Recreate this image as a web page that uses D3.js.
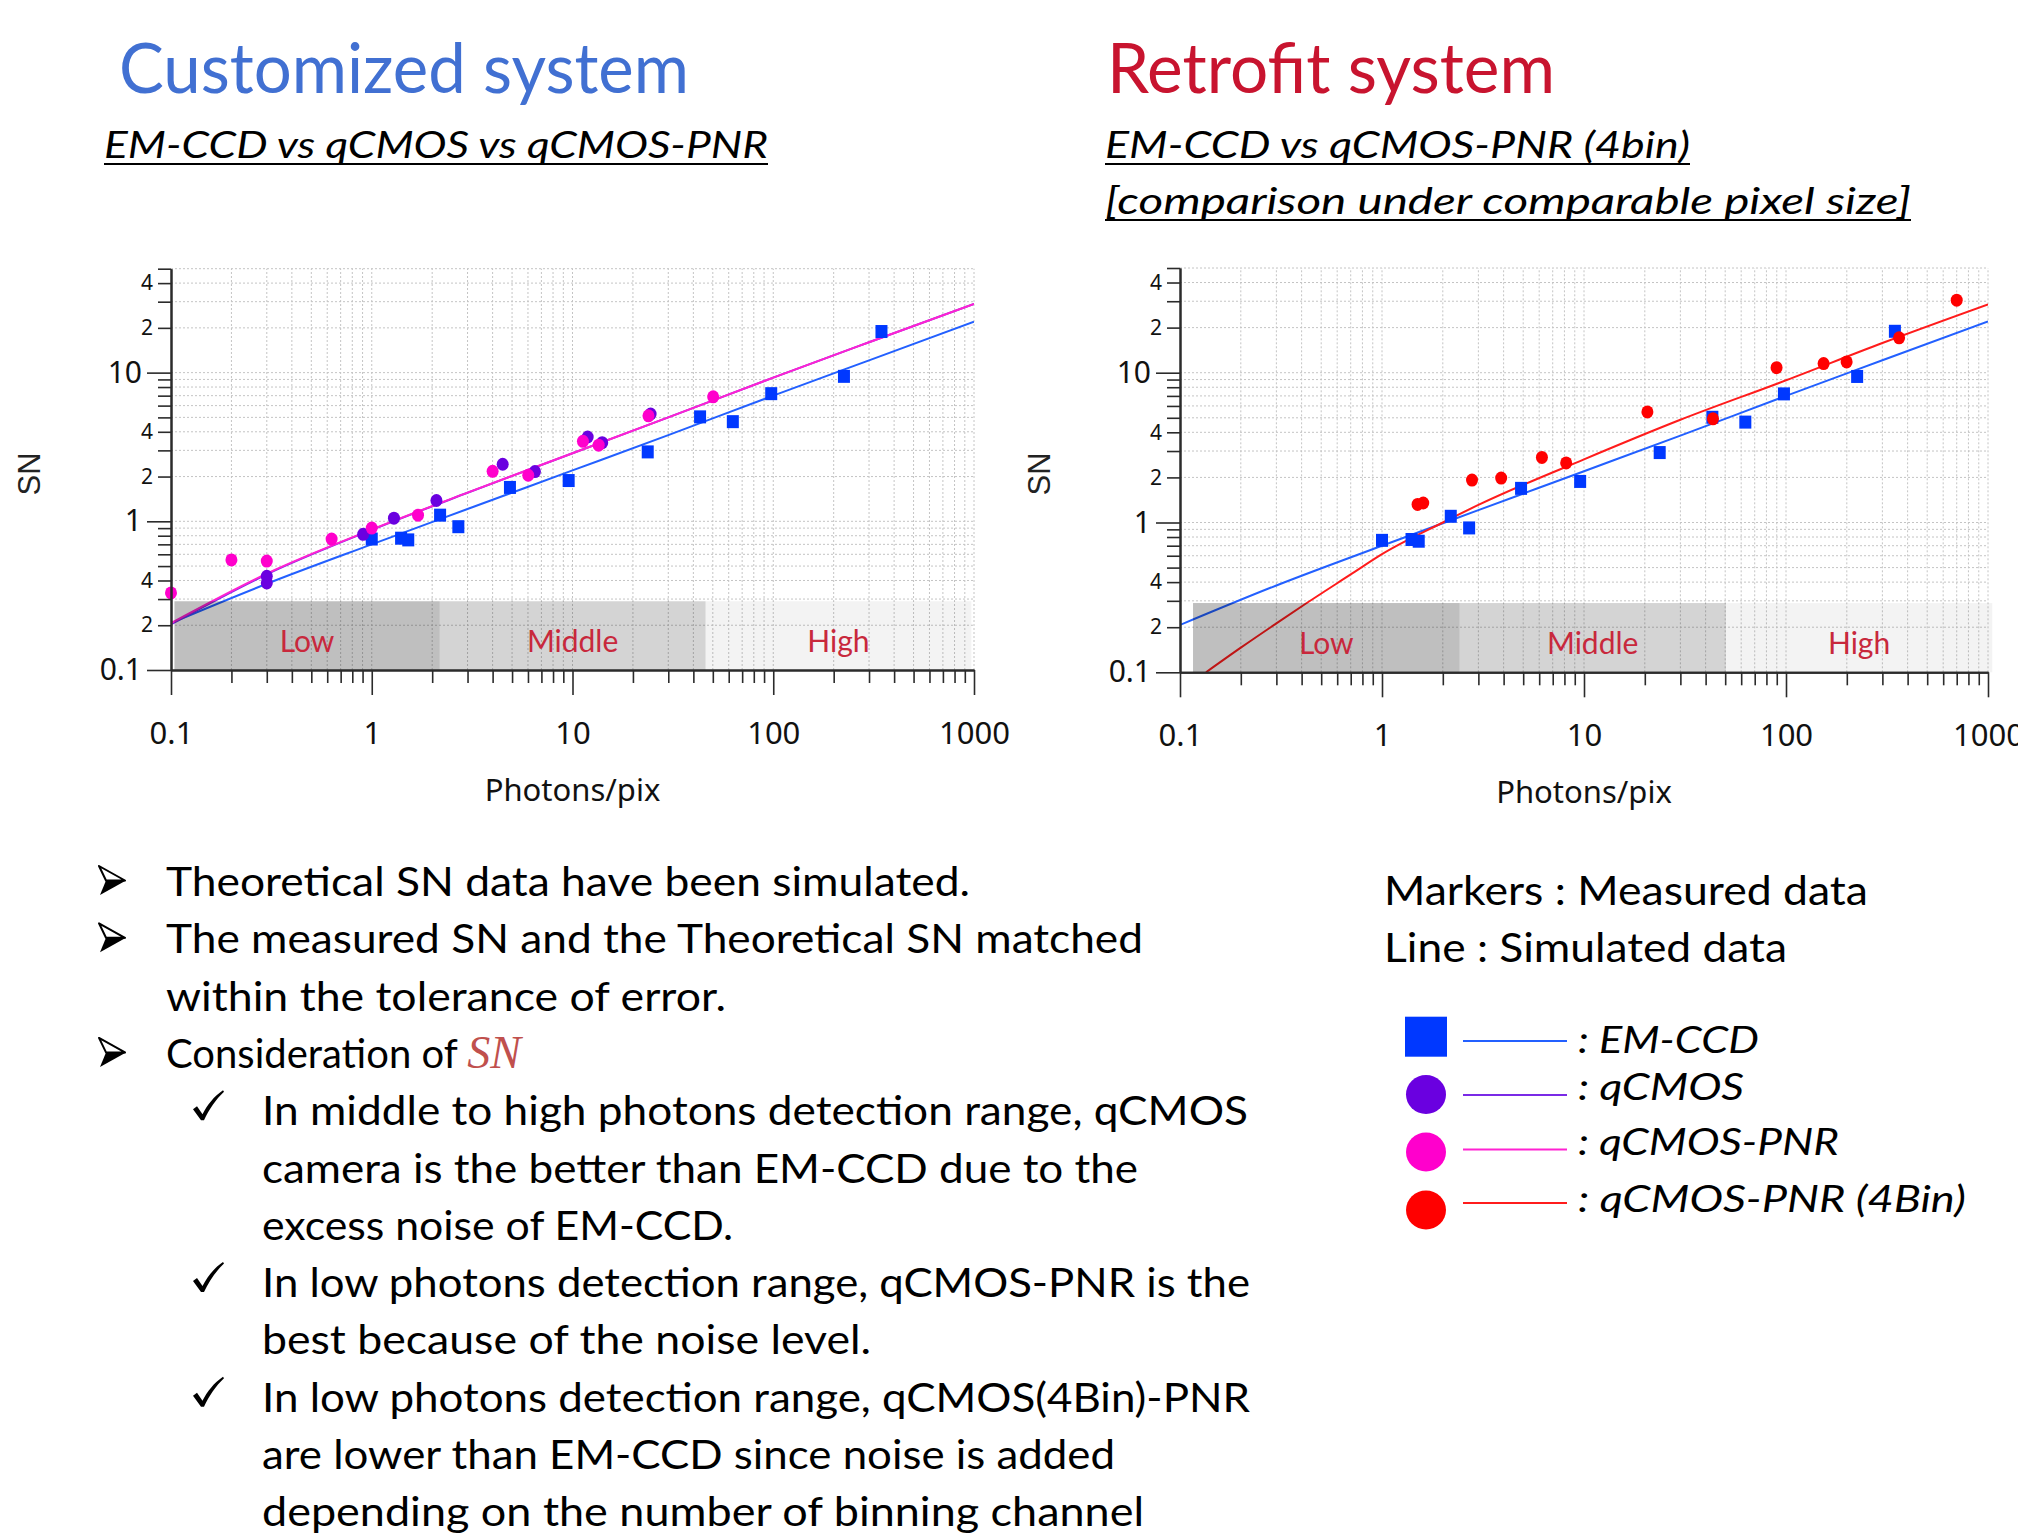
<!DOCTYPE html>
<html>
<head>
<meta charset="utf-8">
<script src="https://cdn.jsdelivr.net/npm/d3@7"></script>
<style>
  html, body { margin: 0; padding: 0; background: #ffffff; }
  svg { display: block; }
</style>
</head>
<body>
<svg id="slide" width="2018" height="1540"></svg>
<script>
// ---------------- data ----------------
// axis ticks
const xMajorTicks = [0.1, 1, 10, 100, 1000];
const xMajorLabels = ["0.1", "1", "10", "100", "1000"];
const yMajorTicks = [0.1, 1, 10];
const yMajorLabels = ["0.1", "1", "10"];
const yMinorLabelled = [0.2, 0.4, 2, 4, 20, 40];
const yMinorLabels = ["2", "4", "2", "4", "2", "4"];

// photon ranges
const rangeNames = ["Low", "Middle", "High"];
const rangeEdgesCustomized = [0.104, 2.18, 46, 970];
const rangeEdgesRetrofit = [0.116, 2.42, 50.4, 1050];
const rangeTopSN = 0.29;

// measured data (photons/pix, SN)
const emccdPhotons = [1.0, 1.40, 1.52, 2.19, 2.70, 4.88, 9.57, 23.7, 43.2, 62.9, 97.7, 225, 346];
const emccdSN      = [0.76, 0.77, 0.75, 1.10, 0.92, 1.69, 1.88, 2.93, 5.04, 4.68, 7.22, 9.44, 18.9];

const qcmosPhotons = [0.3, 0.3, 0.906, 1.29, 2.10, 4.49, 6.50, 11.9, 14.06, 24.5];
const qcmosSN      = [0.427, 0.385, 0.818, 1.05, 1.38, 2.42, 2.16, 3.69, 3.38, 5.27];

const pnrPhotons = [0.1, 0.2, 0.3, 0.631, 1.0, 1.70, 4.0, 6.02, 11.27, 13.5, 23.9, 50.2];
const pnrSN      = [0.33, 0.55, 0.54, 0.76, 0.90, 1.10, 2.17, 2.04, 3.45, 3.25, 5.12, 6.87];

const pnr4Photons = [1.50, 1.60, 2.79, 3.89, 6.19, 8.16, 20.6, 43.5, 89.8, 153.5, 199.6, 363, 700];
const pnr4SN      = [1.32, 1.35, 1.92, 1.98, 2.72, 2.50, 5.47, 4.92, 10.8, 11.5, 11.8, 17.1, 30.5];

// simulated curves (sampled)
const simPhotons = [0.1, 0.3, 1, 3, 10, 30, 100, 300, 1000];
const emccdSim   = [0.207, 0.38, 0.70, 1.21, 2.2, 3.8, 7.0, 12.1, 22.0];
const qcmosSim   = [0.203, 0.44, 0.875, 1.555, 2.87, 5.0, 9.25, 16.0, 29.0];
const pnrSim     = [0.207, 0.445, 0.88, 1.56, 2.87, 5.0, 9.25, 16.0, 29.0];
const pnr4SimPhotons = [0.1345, 0.2, 0.3, 0.424, 0.7, 1, 2, 3, 10, 30, 100, 300, 1000];
const pnr4Sim        = [0.1, 0.146, 0.212, 0.29, 0.45, 0.615, 1.0, 1.31, 2.64, 4.85, 8.9, 15.8, 28.6];

// texts
const titleLeft = "Customized system";
const subtitleLeft = "EM-CCD vs qCMOS vs qCMOS-PNR";
const titleRight = "Retrofit system";
const subtitleRight = ["EM-CCD vs qCMOS-PNR (4bin)", "[comparison under comparable pixel size]"];
const xAxisTitle = "Photons/pix";
const yAxisTitle = "SN";
const legendHeader = ["Markers : Measured data", "Line : Simulated data"];
const legendLabels = [": EM-CCD", ": qCMOS", ": qCMOS-PNR", ": qCMOS-PNR (4Bin)"];
const bodyLines = [
  { kind: "arrow", text: "Theoretical SN data have been simulated." },
  { kind: "arrow", text: "The measured SN and the Theoretical SN matched" },
  { kind: "cont1", text: "within the tolerance of error." },
  { kind: "arrow", text: "Consideration of ", em: "SN" },
  { kind: "check", text: "In middle to high photons detection range, qCMOS" },
  { kind: "cont2", text: "camera is the better than EM-CCD due to the" },
  { kind: "cont2", text: "excess noise of EM-CCD." },
  { kind: "check", text: "In low photons detection range, qCMOS-PNR is the" },
  { kind: "cont2", text: "best because of the noise level." },
  { kind: "check", text: "In low photons detection range, qCMOS(4Bin)-PNR" },
  { kind: "cont2", text: "are lower than EM-CCD since noise is added" },
  { kind: "cont2", text: "depending on the number of binning channel" }
];

// ---------------- styles ----------------
const COLORS = {
  emccd: "#0038ff", emccdLine: "#2360ff",
  qcmos: "#6a00e0", qcmosLine: "#7a2ae6",
  pnr: "#ff00cc", pnrLine: "#ff22d2",
  pnr4: "#ff0000", pnr4Line: "#ff1c1c",
  axis: "#2b2b2b", grid: "#c4c4c4",
  rangeText: "#c8283c",
  titleBlue: "#4170d2", titleRed: "#c8142f"
};
const rangeShade = [0.25, 0.17, 0.047];
const BODY_FONT = "Lato, 'Open Sans', sans-serif";
const TICK_FONT = "'Noto Sans', 'Open Sans', sans-serif";

const svg = d3.select("#slide");

const zip = (a, b) => a.map((v, i) => [v, b[i]]);

// all grid/tick positions on a log axis
function logSteps(lo, hi) {
  const out = [];
  for (let dec = lo; dec < hi * 1.0001; dec *= 10) {
    for (let k = 1; k <= 9; k++) {
      const v = +(k * dec).toPrecision(6);
      if (v <= hi * 1.0001) out.push(v);
    }
  }
  return out;
}

function drawPanel(cfg, id) {
  const x = d3.scaleLog().domain([0.1, 1000]).range([cfg.x0, cfg.x1]);
  const y = d3.scaleLog().domain([0.1, 50]).range([cfg.yB, cfg.yT]);
  const g = svg.append("g").attr("class", "panel");

  g.append("clipPath").attr("id", "clip" + id)
    .append("rect").attr("x", cfg.x0).attr("y", cfg.yT - 8)
    .attr("width", cfg.x1 - cfg.x0).attr("height", cfg.yB - cfg.yT + 8);

  const xAll = logSteps(0.1, 1000);
  const yAll = logSteps(0.1, 50);

  // dotted grid
  const grid = g.append("g").attr("stroke", COLORS.grid).attr("stroke-width", 1)
    .attr("stroke-dasharray", "2,2");
  grid.selectAll("line.vx").data(xAll.slice(1)).join("line")
    .attr("x1", d => x(d)).attr("x2", d => x(d))
    .attr("y1", cfg.yB).attr("y2", cfg.yT);
  grid.selectAll("line.hy").data(yAll.slice(1)).join("line")
    .attr("x1", cfg.x0).attr("x2", cfg.x1)
    .attr("y1", d => y(d)).attr("y2", d => y(d));

  // simulated lines
  const plot = g.append("g").attr("clip-path", `url(#clip${id})`);
  const line = d3.line().x(d => x(d[0])).y(d => y(d[1])).curve(d3.curveMonotoneX);
  cfg.lines.forEach(L => {
    plot.append("path").datum(L.data).attr("d", line)
      .attr("fill", "none").attr("stroke", L.color).attr("stroke-width", 2);
  });

  // measured markers
  cfg.markers.forEach(M => {
    const mg = g.append("g").attr("fill", M.color);
    if (M.shape === "square") {
      mg.selectAll("rect").data(M.data).join("rect")
        .attr("x", d => x(d[0]) - 6).attr("y", d => y(d[1]) - 6.5)
        .attr("width", 12).attr("height", 13);
    } else {
      mg.selectAll("ellipse").data(M.data).join("ellipse")
        .attr("cx", d => x(d[0])).attr("cy", d => y(d[1]))
        .attr("rx", 6).attr("ry", 6.5);
    }
  });

  // photon ranges (translucent shading) with labels
  const edges = cfg.ranges;
  const rg = g.append("g");
  rangeNames.forEach((name, i) => {
    rg.append("rect")
      .attr("x", x(edges[i])).attr("y", y(rangeTopSN))
      .attr("width", x(edges[i + 1]) - x(edges[i]))
      .attr("height", cfg.yB - y(rangeTopSN))
      .attr("fill", "#000").attr("fill-opacity", rangeShade[i]);
    rg.append("text")
      .attr("x", (x(edges[i]) + x(edges[i + 1])) / 2)
      .attr("y", cfg.yB - 18)
      .attr("text-anchor", "middle")
      .attr("font-family", BODY_FONT).attr("font-size", 30)
      .attr("fill", COLORS.rangeText).text(name);
  });

  // axes
  const styleAxis = sel => {
    sel.select(".domain").attr("stroke", COLORS.axis).attr("stroke-width", 2);
    sel.selectAll(".tick line").attr("stroke", COLORS.axis).attr("stroke-width", 1.6);
    sel.selectAll(".tick text").attr("fill", "#111").attr("font-family", TICK_FONT);
  };

  const xMinor = xAll.filter(v => !xMajorTicks.includes(v));
  g.append("g").attr("transform", `translate(0,${cfg.yB})`)
    .call(d3.axisBottom(x).tickValues(xMinor).tickSize(13).tickSizeOuter(0).tickFormat(""))
    .call(styleAxis);
  g.append("g").attr("transform", `translate(0,${cfg.yB})`)
    .call(d3.axisBottom(x).tickValues(xMajorTicks).tickSize(25).tickSizeOuter(0)
      .tickPadding(27).tickFormat((d, i) => xMajorLabels[i]))
    .call(styleAxis)
    .call(s => s.selectAll(".tick text").attr("font-size", 31));

  const yMinor = yAll.filter(v => !yMajorTicks.includes(v));
  g.append("g").attr("transform", `translate(${cfg.x0},0)`)
    .call(d3.axisLeft(y).tickValues(yMinor).tickSize(13).tickSizeOuter(0).tickPadding(5)
      .tickFormat(d => {
        const k = yMinorLabelled.indexOf(d);
        return k >= 0 ? yMinorLabels[k] : "";
      }))
    .call(styleAxis)
    .call(s => s.selectAll(".tick text").attr("font-size", 21));
  g.append("g").attr("transform", `translate(${cfg.x0},0)`)
    .call(d3.axisLeft(y).tickValues(yMajorTicks).tickSize(24).tickSizeOuter(0).tickPadding(5)
      .tickFormat((d, i) => yMajorLabels[i]))
    .call(styleAxis)
    .call(s => s.selectAll(".tick text").attr("font-size", 30));

  // axis titles
  g.append("text")
    .attr("x", (cfg.x0 + cfg.x1) / 2).attr("y", cfg.yB + 131)
    .attr("text-anchor", "middle")
    .attr("font-family", TICK_FONT).attr("font-size", 31).attr("fill", "#111")
    .text(xAxisTitle);
  g.append("text")
    .attr("transform", `translate(${cfg.snX},474) rotate(-90)`)
    .attr("text-anchor", "middle").attr("dominant-baseline", "central")
    .attr("font-family", "'Liberation Sans', Arial, sans-serif").attr("font-size", 31)
    .attr("fill", "#222").text(yAxisTitle);
}

drawPanel({
  x0: 171, x1: 974, yB: 670, yT: 268.7, snX: 29,
  ranges: rangeEdgesCustomized,
  lines: [
    { data: zip(simPhotons, emccdSim), color: COLORS.emccdLine },
    { data: zip(simPhotons, qcmosSim), color: COLORS.qcmosLine },
    { data: zip(simPhotons, pnrSim), color: COLORS.pnrLine }
  ],
  markers: [
    { data: zip(emccdPhotons, emccdSN), color: COLORS.emccd, shape: "square" },
    { data: zip(qcmosPhotons, qcmosSN), color: COLORS.qcmos, shape: "circle" },
    { data: zip(pnrPhotons, pnrSN), color: COLORS.pnr, shape: "circle" }
  ]
}, "L");

drawPanel({
  x0: 1180, x1: 1988, yB: 672.3, yT: 268, snX: 1039,
  ranges: rangeEdgesRetrofit,
  lines: [
    { data: zip(simPhotons, emccdSim), color: COLORS.emccdLine },
    { data: zip(pnr4SimPhotons, pnr4Sim), color: COLORS.pnr4Line }
  ],
  markers: [
    { data: zip(emccdPhotons, emccdSN), color: COLORS.emccd, shape: "square" },
    { data: zip(pnr4Photons, pnr4SN), color: COLORS.pnr4, shape: "circle" }
  ]
}, "R");

// ---------------- headings ----------------
function fittedText(x, y, str, size, width, opts = {}) {
  const t = svg.append("text").attr("x", x).attr("y", y)
    .attr("font-family", BODY_FONT).attr("font-size", size)
    .attr("fill", opts.fill || "#000")
    .attr("font-style", opts.italic ? "italic" : "normal")
    .text(str);
  if (width) t.attr("textLength", width).attr("lengthAdjust", "spacingAndGlyphs");
  if (opts.underline) {
    svg.append("line").attr("x1", x).attr("x2", x + width)
      .attr("y1", y + 6).attr("y2", y + 6)
      .attr("stroke", "#000").attr("stroke-width", 2);
  }
  return t;
}

fittedText(119, 93, titleLeft, 70, 570, { fill: COLORS.titleBlue });
fittedText(104, 158, subtitleLeft, 37, 664, { italic: true, underline: true });
fittedText(1107, 93, titleRight, 70, 448, { fill: COLORS.titleRed });
fittedText(1105, 158, subtitleRight[0], 37, 585, { italic: true, underline: true });
fittedText(1105, 214, subtitleRight[1], 37, 806, { italic: true, underline: true });

// ---------------- bullet text ----------------
// arrowhead bullet: outlined upper facet, solid lower facet
function arrowBullet(x, base) {
  const g = svg.append("g").attr("transform", `translate(${x},${base - 31})`);
  g.append("path").attr("d", "M1,1 L27,15.5 L8,15.5 Z")
    .attr("fill", "#fff").attr("stroke", "#000").attr("stroke-width", 2)
    .attr("stroke-linejoin", "round");
  g.append("path").attr("d", "M8,15.5 L28,15.5 L2,30 Z").attr("fill", "#000");
}
// tick-mark bullet
function checkBullet(x, base) {
  svg.append("path")
    .attr("transform", `translate(${x},${base - 35})`)
    .attr("d", "M0,19 L4,16 L9.5,24 C14,15 21,6 30,0 L31,1.5 C23,9 16,19 11,30 L8,30 Z")
    .attr("fill", "#000");
}

const bodyWidths = [804, 977, 560, null, 986, 876, 471, 988, 609, 988, 853, 882];
bodyLines.forEach((L, i) => {
  const base = 896 + i * 57.3;
  const tx = (L.kind === "arrow" || L.kind === "cont1") ? 166 : 262;
  if (L.kind === "arrow") arrowBullet(98, base);
  if (L.kind === "check") checkBullet(193, base);
  const t = fittedText(tx, base, L.text, 40, bodyWidths[i]);
  if (L.em) {
    t.append("tspan").attr("font-family", "'Liberation Serif', 'DejaVu Serif', serif")
      .attr("font-style", "italic").attr("font-size", 46)
      .attr("fill", "#c0504d").text(L.em);
  }
});

// ---------------- legend ----------------
fittedText(1384, 905, legendHeader[0], 40, 484);
fittedText(1384, 962, legendHeader[1], 40, 403);

const legendRows = [
  { shape: "square", color: COLORS.emccd, line: COLORS.emccdLine, cy: 1036.7, ly: 1041, ty: 1053, w: 181 },
  { shape: "circle", color: COLORS.qcmos, line: COLORS.qcmosLine, cy: 1094.5, ly: 1095, ty: 1100, w: 166 },
  { shape: "circle", color: COLORS.pnr, line: COLORS.pnrLine, cy: 1152, ly: 1149.5, ty: 1155, w: 261 },
  { shape: "circle", color: COLORS.pnr4, line: COLORS.pnr4Line, cy: 1210, ly: 1203, ty: 1212, w: 388 }
];
legendRows.forEach((r, i) => {
  if (r.shape === "square") {
    svg.append("rect").attr("x", 1405).attr("y", r.cy - 20).attr("width", 42).attr("height", 40)
      .attr("fill", r.color);
  } else {
    svg.append("ellipse").attr("cx", 1426).attr("cy", r.cy).attr("rx", 20).attr("ry", 19.5)
      .attr("fill", r.color);
  }
  svg.append("line").attr("x1", 1463).attr("x2", 1567).attr("y1", r.ly).attr("y2", r.ly)
    .attr("stroke", r.line).attr("stroke-width", 2);
  fittedText(1578, r.ty, legendLabels[i], 37, r.w, { italic: true });
});
</script>
</body>
</html>
